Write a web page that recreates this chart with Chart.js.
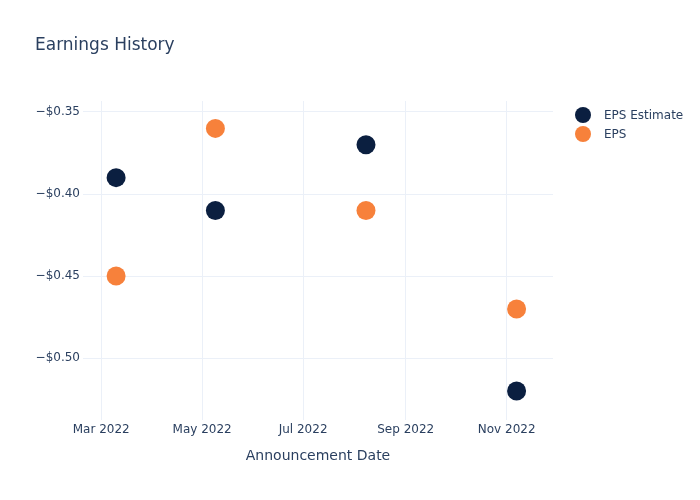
<!DOCTYPE html>
<html>
<head>
<meta charset="utf-8">
<script src="https://cdn.jsdelivr.net/npm/chart.js@4"></script>
<style>
  body { margin: 0; background: #fff; font-family: "DejaVu Sans", sans-serif; }
  #wrap { position: relative; width: 700px; height: 500px; }
  #title { position: absolute; left: 35px; top: 34px; font-size: 17px; color: #2a3f5f; }
  #legend { position: absolute; left: 575px; top: 105px; font-size: 12px; color: #2a3f5f; }
  .item { height: 19px; display: flex; align-items: center; }
  .dot { width: 16px; height: 16px; border-radius: 50%; margin-right: 13px; }
</style>
</head>
<body>
<div id="wrap">
  <canvas id="chart" width="700" height="500"></canvas>
  <div id="title">Earnings History</div>
  <div id="legend"></div>
</div>
<script>
const dates = ["2022-03-10", "2022-05-09", "2022-08-08", "2022-11-07"];
const epsEstimate = [-0.39, -0.41, -0.37, -0.52];
const epsActual = [-0.45, -0.36, -0.41, -0.47];
const xTickDates = ["2022-03-01", "2022-05-01", "2022-07-01", "2022-09-01", "2022-11-01"];
const yTicks = [-0.50, -0.45, -0.40, -0.35];
const monthNames = ["Jan", "Feb", "Mar", "Apr", "May", "Jun", "Jul", "Aug", "Sep", "Oct", "Nov", "Dec"];

const colors = { estimate: "#0b1f40", eps: "#f7813b" };
const ts = d => Date.parse(d + "T00:00:00Z");

document.addEventListener("DOMContentLoaded", function() {
  const legendBox = document.getElementById("legend");
  [["EPS Estimate", colors.estimate], ["EPS", colors.eps]].forEach(([label, color]) => {
    const row = document.createElement("div");
    row.className = "item";
    row.innerHTML = '<span class="dot" style="background:' + color + '"></span>' + label;
    legendBox.appendChild(row);
  });

  const textColor = "#2a3f5f";
  const gridColor = "#ebf0f8";

  new Chart(document.getElementById("chart").getContext("2d"), {
    type: "scatter",
    data: {
      datasets: [
        {
          label: "EPS Estimate",
          data: dates.map((d, i) => ({ x: ts(d), y: epsEstimate[i] })),
          backgroundColor: colors.estimate,
          borderWidth: 0,
          pointRadius: 9.5,
          pointHoverRadius: 9.5
        },
        {
          label: "EPS",
          data: dates.map((d, i) => ({ x: ts(d), y: epsActual[i] })),
          backgroundColor: colors.eps,
          borderWidth: 0,
          pointRadius: 9.5,
          pointHoverRadius: 9.5
        }
      ]
    },
    options: {
      responsive: false,
      animation: false,
      layout: { padding: { top: 101, right: 147, left: 0, bottom: 31 } },
      plugins: { legend: { display: false }, tooltip: { enabled: false } },
      scales: {
        x: {
          type: "linear",
          min: ts("2022-02-18"),
          max: ts("2022-11-29"),
          afterBuildTicks: scale => { scale.ticks = xTickDates.map(d => ({ value: ts(d) })); },
          afterFit: scale => { scale.height = 49; },
          grid: { color: gridColor, drawTicks: false },
          border: { display: false },
          ticks: {
            color: textColor,
            font: { family: "DejaVu Sans", size: 12 },
            padding: 3,
            maxRotation: 0,
            callback: v => { const d = new Date(v); return monthNames[d.getUTCMonth()] + " " + d.getUTCFullYear(); }
          },
          title: {
            display: true,
            text: "Announcement Date",
            color: textColor,
            font: { family: "DejaVu Sans", size: 14 },
            padding: { top: 10 }
          }
        },
        y: {
          min: -0.5377,
          max: -0.3433,
          afterBuildTicks: scale => { scale.ticks = yTicks.map(v => ({ value: v })); },
          afterFit: scale => { scale.width = 83; },
          grid: { color: gridColor, drawTicks: false },
          border: { display: false },
          ticks: {
            color: textColor,
            font: { family: "DejaVu Sans", size: 12 },
            padding: 3,
            callback: v => (v < 0 ? "\u2212" : "") + "$" + Math.abs(v).toFixed(2)
          }
        }
      }
    }
  });
});
</script>
</body>
</html>
